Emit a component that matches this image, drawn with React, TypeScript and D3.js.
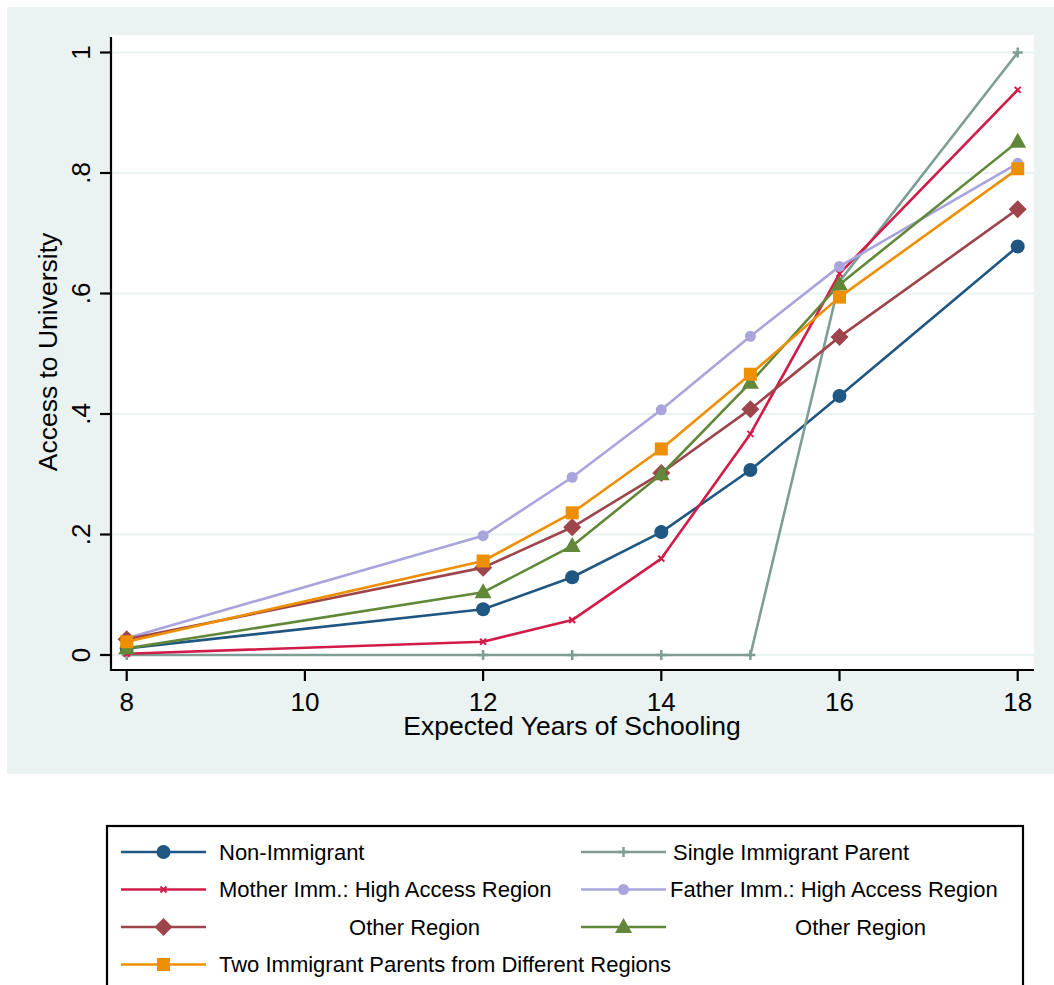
import React from "react";
import * as d3 from "d3";

const years = [8, 12, 13, 14, 15, 16, 18];
const nonImmigrant = [0.011, 0.076, 0.129, 0.204, 0.307, 0.43, 0.678];
const singleParent = [0, 0, 0, 0, 0, 0.62, 1.0];
const motherHigh = [0.002, 0.022, 0.058, 0.16, 0.367, 0.633, 0.938];
const fatherHigh = [0.028, 0.198, 0.295, 0.407, 0.529, 0.645, 0.816];
const motherOther = [0.026, 0.145, 0.212, 0.302, 0.408, 0.528, 0.74];
const fatherOther = [0.011, 0.104, 0.181, 0.3, 0.452, 0.615, 0.852];
const twoParents = [0.022, 0.156, 0.236, 0.342, 0.466, 0.594, 0.807];

const xTicks = [8, 10, 12, 14, 16, 18];
const yTicks = [0, 0.2, 0.4, 0.6, 0.8, 1];
const yTickLabels = ["0", ".2", ".4", ".6", ".8", "1"];

type Marker = "circle" | "plus" | "x" | "smallcircle" | "diamond" | "triangle" | "square";

const series: { label: string; values: number[]; color: string; marker: Marker }[] = [
  { label: "Non-Immigrant", values: nonImmigrant, color: "#1f5682", marker: "circle" },
  { label: "Single Immigrant Parent", values: singleParent, color: "#7e9e95", marker: "plus" },
  { label: "Mother Imm.: High Access Region", values: motherHigh, color: "#d21c48", marker: "x" },
  { label: "Father Imm.: High Access Region", values: fatherHigh, color: "#a9a4dc", marker: "smallcircle" },
  { label: "Other Region", values: motherOther, color: "#9e454b", marker: "diamond" },
  { label: "Other Region", values: fatherOther, color: "#618839", marker: "triangle" },
  { label: "Two Immigrant Parents from Different Regions", values: twoParents, color: "#ed8f00", marker: "square" },
];

const FONT = "'Liberation Sans', Arial, sans-serif";

function MarkerShape({ type, x, y, color }: { type: Marker; x: number; y: number; color: string }) {
  switch (type) {
    case "circle":
      return <circle cx={x} cy={y} r={7} fill={color} />;
    case "smallcircle":
      return <circle cx={x} cy={y} r={5.5} fill={color} />;
    case "square":
      return <rect x={x - 6.5} y={y - 6.5} width={13} height={13} fill={color} />;
    case "diamond":
      return <path d={`M${x},${y - 9}L${x + 9},${y}L${x},${y + 9}L${x - 9},${y}Z`} fill={color} />;
    case "triangle":
      return <path d={`M${x},${y - 9}L${x + 8.5},${y + 6}L${x - 8.5},${y + 6}Z`} fill={color} />;
    case "plus":
      return (
        <path d={`M${x - 5},${y}L${x + 5},${y}M${x},${y - 5}L${x},${y + 5}`} stroke={color} strokeWidth={2.5} />
      );
    case "x":
      return (
        <path d={`M${x - 3},${y - 3}L${x + 3},${y + 3}M${x - 3},${y + 3}L${x + 3},${y - 3}`} stroke={color} strokeWidth={2} />
      );
  }
}

export default function App() {
  const x = d3.scaleLinear().domain([8, 18]).range([126.7, 1017.7]);
  const y = d3.scaleLinear().domain([0, 1]).range([655, 52.5]);
  const line = d3
    .line<number>()
    .x((_, i) => x(years[i]))
    .y((d) => y(d));

  const plotL = 111, plotR = 1034, plotT = 35, plotB = 670;

  const legendRows = [
    { s: series[0], col: 0, row: 0, anchor: "start", tx: 219 },
    { s: series[1], col: 1, row: 0, anchor: "start", tx: 673 },
    { s: series[2], col: 0, row: 1, anchor: "start", tx: 219 },
    { s: series[3], col: 1, row: 1, anchor: "start", tx: 670 },
    { s: series[4], col: 0, row: 2, anchor: "middle", tx: 414.5 },
    { s: series[5], col: 1, row: 2, anchor: "middle", tx: 860.5 },
    { s: series[6], col: 0, row: 3, anchor: "start", tx: 219 },
  ];
  const rowY = [852, 889.5, 927, 964.5];
  const colLine = [
    [121, 206, 163.5],
    [581, 666, 623.5],
  ];

  return (
    <svg
      width={1054}
      height={985}
      style={{ position: "absolute", left: 0, top: 0, background: "#ffffff" }}
      fontFamily={FONT}
    >
      <rect x={7} y={7} width={1047} height={767} fill="#eaf2f2" />
      <rect x={plotL} y={plotT} width={plotR - plotL} height={plotB - plotT} fill="#ffffff" />
      {yTicks.map((t) => (
        <line key={t} x1={plotL} x2={plotR} y1={y(t)} y2={y(t)} stroke="#eaf2f2" strokeWidth={2} />
      ))}
      {series.map((s, si) => (
        <g key={si}>
          <path d={line(s.values) || ""} fill="none" stroke={s.color} strokeWidth={2.6} strokeLinejoin="round" />
          {s.values.map((v, i) => (
            <MarkerShape key={i} type={s.marker} x={x(years[i])} y={y(v)} color={s.color} />
          ))}
        </g>
      ))}
      {/* axes */}
      <line x1={plotL} x2={plotL} y1={plotT + 2} y2={plotB + 1} stroke="#000" strokeWidth={2.2} />
      <line x1={plotL - 1} x2={plotR} y1={plotB} y2={plotB} stroke="#000" strokeWidth={2.2} />
      {yTicks.map((t, i) => (
        <g key={t}>
          <line x1={100} x2={plotL} y1={y(t)} y2={y(t)} stroke="#000" strokeWidth={2.2} />
          <text
            transform={`translate(90,${y(t)}) rotate(-90)`}
            textAnchor="middle"
            fontSize={26}
            fill="#000"
          >
            {yTickLabels[i]}
          </text>
        </g>
      ))}
      {xTicks.map((t) => (
        <g key={t}>
          <line x1={x(t)} x2={x(t)} y1={plotB} y2={681} stroke="#000" strokeWidth={2.2} />
          <text x={x(t)} y={711} textAnchor="middle" fontSize={26} fill="#000">
            {t}
          </text>
        </g>
      ))}
      <text x={572} y={735} textAnchor="middle" fontSize={26.5} fill="#000">
        Expected Years of Schooling
      </text>
      <text transform="translate(57,352) rotate(-90)" textAnchor="middle" fontSize={26.5} fill="#000">
        Access to University
      </text>
      {/* legend */}
      <rect x={107} y={826} width={916} height={175} fill="#ffffff" stroke="#000" strokeWidth={2.2} />
      {legendRows.map((r, i) => {
        const [l1, l2, mx] = colLine[r.col];
        const yy = rowY[r.row];
        return (
          <g key={i}>
            <line x1={l1} x2={l2} y1={yy} y2={yy} stroke={r.s.color} strokeWidth={2.6} />
            <MarkerShape type={r.s.marker} x={mx} y={yy} color={r.s.color} />
            <text
              x={r.tx}
              y={yy}
              dy="0.36em"
              textAnchor={r.anchor as any}
              fontSize={22}
              fill="#000"
            >
              {r.s.label}
            </text>
          </g>
        );
      })}
    </svg>
  );
}
